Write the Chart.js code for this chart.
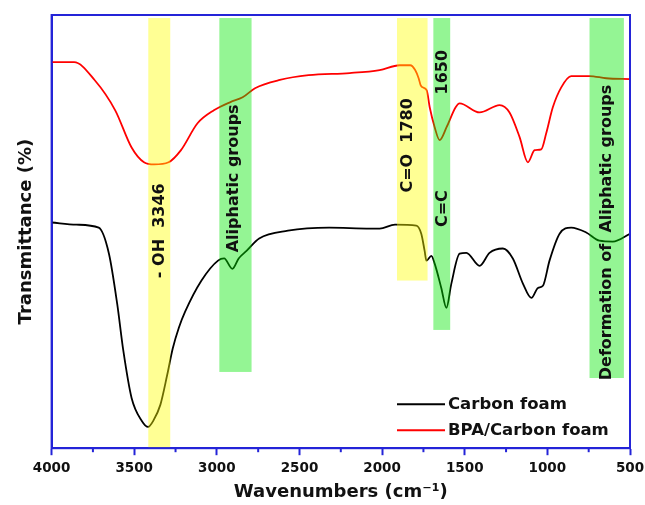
<!DOCTYPE html>
<html>
<head>
<meta charset="utf-8">
<script src="https://cdn.jsdelivr.net/npm/chart.js@4.4.1/dist/chart.umd.min.js"></script>
<style>
  body { margin: 0; background: #fff; }
  #wrap { width: 645px; height: 505px; position: relative; }
</style>
</head>
<body>
<div id="wrap"><canvas id="ftir"></canvas></div>
<script>
// FTIR spectra, wavenumber (cm-1) vs transmittance (arbitrary %)
const wnCarbon = [4000, 3850, 3715, 3653, 3603, 3566, 3516, 3454, 3416, 3385, 3342, 3300, 3267, 3230, 3192, 3093,
  2993, 2956, 2906, 2868, 2819, 2744, 2570, 2321, 2072, 2015, 1922, 1793, 1763, 1743, 1732, 1702, 1682,
  1642, 1611, 1581, 1531, 1490, 1410, 1350, 1269, 1209, 1148, 1097, 1057, 1027, 987, 926, 856, 765, 685, 604, 500];
const tCarbon = [52.1, 51.6, 50.9, 44.9, 33.3, 22.5, 11.6, 6.3, 4.9, 6.3, 10.0, 17.0, 23.0, 27.8, 31.5, 38.7,
  43.3, 43.8, 41.4, 43.8, 45.6, 48.4, 50.2, 50.9, 50.7, 50.7, 51.6, 51.4, 49.5, 45.6, 43.3, 44.4, 42.6,
  37.0, 32.4, 38.0, 44.9, 45.1, 42.1, 45.1, 46.1, 43.8, 38.0, 34.7, 37.0, 37.5, 43.3, 49.5, 50.9, 49.8, 47.9, 47.7, 49.5];

const wnBpa = [4000, 3864, 3740, 3615, 3516, 3441, 3379, 3292, 3217, 3117, 3018, 2918, 2844, 2769, 2619,
  2445, 2196, 2015, 1894, 1830, 1800, 1779, 1767, 1755, 1730, 1712, 1682, 1652, 1610, 1555, 1531, 1410,
  1289, 1229, 1168, 1118, 1077, 1037, 1007, 967, 916, 856, 745, 644, 500];
const tBpa = [89.1, 89.1, 85.0, 78.0, 69.4, 66.0, 65.5, 66.0, 68.8, 75.0, 78.0, 79.9, 81.0, 83.1, 85.0,
  86.1, 86.6, 87.3, 88.4, 88.4, 87.3, 85.4, 83.8, 83.3, 82.6, 78.7, 74.1, 71.1, 74.1, 78.7, 79.6, 77.5,
  79.2, 77.5, 71.8, 66.0, 68.8, 69.0, 72.7, 78.7, 83.3, 85.9, 85.9, 85.4, 85.2];

const seriesNames = ['Carbon foam', 'BPA/Carbon foam'];
const xTicks = [4000, 3500, 3000, 2500, 2000, 1500, 1000, 500];

// highlighted absorption regions
const bandFrom = [3415, 2985, 1910, 1690, 745];
const bandTo = [3282, 2790, 1725, 1588, 537];
const bandTop = [99.3, 99.3, 99.3, 99.3, 99.3];
const bandBottom = [0, 17.6, 38.7, 27.3, 16.2];

// rotated labels inside the bands
const noteText = ['- OH  3346', 'Aliphatic groups', 'C=O  1780', '1650', 'C=C', 'Deformation of  Aliphatic groups'];
const noteWn = [3345, 2900, 1845, 1634, 1634, 642];
const noteY = [50.2, 62.3, 69.9, 86.8, 55.3, 49.8];

const blue = '#2424d8';
const bandFills = ['rgba(255,255,0,0.42)', 'rgba(0,230,0,0.42)', 'rgba(255,255,0,0.42)', 'rgba(0,230,0,0.42)', 'rgba(0,230,0,0.42)'];
const lineColors = ['#000000', '#ff0000'];

const overlay = {
  id: 'overlay',
  afterDatasetsDraw(chart) {
    const { ctx, chartArea: a, scales: { x, y } } = chart;
    ctx.save();
    // bands go over the curves (curves show through)
    for (let i = 0; i < bandFrom.length; i++) {
      const x1 = x.getPixelForValue(bandFrom[i]);
      const x2 = x.getPixelForValue(bandTo[i]);
      const y1 = y.getPixelForValue(bandTop[i]);
      const y2 = y.getPixelForValue(bandBottom[i]);
      ctx.fillStyle = bandFills[i];
      ctx.fillRect(Math.min(x1, x2), y1, Math.abs(x2 - x1), y2 - y1);
    }
    // band notes
    ctx.fillStyle = '#111';
    ctx.font = 'bold 16px "DejaVu Sans"';
    ctx.textAlign = 'center';
    ctx.textBaseline = 'middle';
    noteText.forEach((t, i) => {
      ctx.save();
      ctx.translate(x.getPixelForValue(noteWn[i]), y.getPixelForValue(noteY[i]));
      ctx.rotate(-Math.PI / 2);
      ctx.fillText(t, 0, 0);
      ctx.restore();
    });
    // minor ticks half way between labels
    ctx.strokeStyle = blue;
    ctx.lineWidth = 2;
    for (let i = 0; i < xTicks.length - 1; i++) {
      const px = x.getPixelForValue((xTicks[i] + xTicks[i + 1]) / 2);
      ctx.beginPath();
      ctx.moveTo(px, a.bottom);
      ctx.lineTo(px, a.bottom + 4);
      ctx.stroke();
    }
    // legend, bottom right inside the frame
    ctx.font = 'bold 16.5px "DejaVu Sans"';
    ctx.textAlign = 'left';
    chart.data.datasets.forEach((ds, i) => {
      const ly = a.bottom - 44 + i * 26;
      ctx.strokeStyle = ds.borderColor;
      ctx.lineWidth = 2;
      ctx.beginPath();
      ctx.moveTo(a.right - 233, ly);
      ctx.lineTo(a.right - 185, ly);
      ctx.stroke();
      ctx.fillStyle = '#111';
      ctx.fillText(ds.label, a.right - 182, ly + 1);
    });
    // frame
    ctx.strokeStyle = blue;
    ctx.lineWidth = 2;
    ctx.strokeRect(a.left, a.top, a.right - a.left, a.bottom - a.top);
    ctx.restore();
  }
};

new Chart(document.getElementById('ftir'), {
  type: 'line',
  data: {
    datasets: [
      {
        label: seriesNames[0],
        data: wnCarbon.map((w, i) => ({ x: w, y: tCarbon[i] })),
        borderColor: lineColors[0],
        borderWidth: 1.8,
        pointRadius: 0,
        cubicInterpolationMode: 'monotone'
      },
      {
        label: seriesNames[1],
        data: wnBpa.map((w, i) => ({ x: w, y: tBpa[i] })),
        borderColor: lineColors[1],
        borderWidth: 1.8,
        pointRadius: 0,
        cubicInterpolationMode: 'monotone'
      }
    ]
  },
  options: {
    responsive: true,
    maintainAspectRatio: false,
    animation: false,
    layout: { padding: { top: 15, right: 15, left: 8, bottom: 0 } },
    plugins: {
      legend: { display: false },
      tooltip: { enabled: false }
    },
    scales: {
      x: {
        type: 'linear',
        reverse: true,
        min: 500,
        max: 4000,
        afterBuildTicks: (s) => { s.ticks = xTicks.map(v => ({ value: v })); },
        afterFit: (s) => { s.paddingRight = 15; },
        ticks: {
          autoSkip: false,
          maxRotation: 0,
          padding: 5,
          color: '#111',
          callback: (v) => String(v),
          font: { family: 'DejaVu Sans', weight: 'bold', size: 13.5 }
        },
        grid: { drawOnChartArea: false, tickLength: 7, tickColor: blue, tickWidth: 2 },
        border: { color: blue, width: 2 },
        title: {
          display: true,
          text: 'Wavenumbers (cm\u207B\u00B9)',
          color: '#111',
          padding: { top: 0, bottom: 2 },
          font: { family: 'DejaVu Sans', weight: 'bold', size: 18 }
        }
      },
      y: {
        min: 0,
        max: 100,
        ticks: { display: false },
        grid: { display: false, drawTicks: false },
        border: { color: blue, width: 2 },
        title: {
          display: true,
          text: 'Transmittance (%)',
          color: '#111',
          padding: { top: 8, bottom: 14 },
          font: { family: 'DejaVu Sans', weight: 'bold', size: 18 }
        }
      }
    }
  },
  plugins: [overlay]
});
</script>
</body>
</html>
